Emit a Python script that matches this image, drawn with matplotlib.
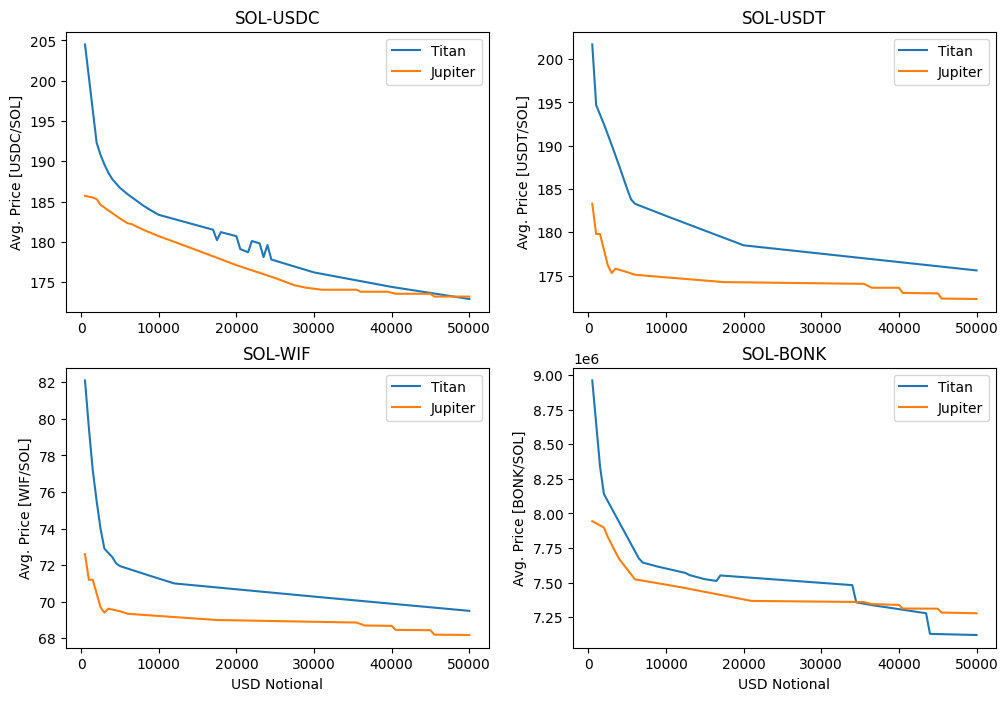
import matplotlib
matplotlib.use("Agg")
from matplotlib import pyplot as plt

PAIRS = ["SOL-USDC", "SOL-USDT", "SOL-WIF", "SOL-BONK"]
QUOTES = ["USDC", "USDT", "WIF", "BONK"]

# SOL-USDC
usdc_titan_x = [500, 2000, 2500, 3000, 3500, 4000, 5000, 6000, 7000, 8000, 9000, 10000, 17000, 17500,
                18000, 20000, 20500, 21500, 22000, 23000, 23500, 24000, 24500, 30000, 40000, 50000]
usdc_titan_y = [204.5, 192.3, 190.8, 189.6, 188.6, 187.8, 186.7, 185.9, 185.2, 184.5, 183.9, 183.35,
                181.5, 180.2, 181.2, 180.7, 179.1, 178.7, 180.1, 179.8, 178.1, 179.6, 177.8, 176.2,
                174.4, 172.9]
usdc_jup_x = [500, 1500, 2000, 2500, 3500, 5000, 6000, 6500, 8000, 9000, 10000, 12000, 17000,
              20000, 25000, 27500, 29000, 31000, 35500, 36000, 39500, 40500, 45000, 45500, 50000]
usdc_jup_y = [185.7, 185.5, 185.3, 184.6, 183.9, 182.9, 182.3, 182.2, 181.5, 181.1, 180.7, 180.0, 178.2,
              177.1, 175.5, 174.6, 174.3, 174.05, 174.05, 173.8, 173.8, 173.55, 173.55, 173.2, 173.2]

# SOL-USDT
usdt_titan_x = [500, 1000, 2000, 3000, 4000, 5000, 5500, 6000, 10000, 20000, 50000]
usdt_titan_y = [201.7, 194.7, 192.5, 190.1, 187.6, 185.0, 183.8, 183.3, 181.9, 178.5, 175.6]
usdt_jup_x = [500, 1000, 1500, 2500, 3000, 3500, 5000, 6000, 10000, 17500, 35500, 36500,
              40000, 40500, 45000, 45500, 50000]
usdt_jup_y = [183.3, 179.8, 179.8, 176.2, 175.3, 175.8, 175.4, 175.1, 174.8, 174.25, 174.05, 173.6,
              173.6, 173.0, 172.95, 172.35, 172.3]

# SOL-WIF
wif_titan_x = [500, 1000, 1500, 2000, 2500, 3000, 4000, 4500, 5000, 9000, 12000, 30000, 50000]
wif_titan_y = [82.1, 79.5, 77.2, 75.5, 74.0, 72.9, 72.45, 72.1, 71.95, 71.4, 71.0, 70.28, 69.5]
wif_jup_x = [500, 1000, 1500, 2500, 3000, 3500, 5000, 6000, 10000, 17500, 35500, 36500, 40000,
             40500, 45000, 45500, 50000]
wif_jup_y = [72.6, 71.2, 71.2, 69.7, 69.4, 69.62, 69.48, 69.34, 69.22, 69.0, 68.86, 68.7, 68.68,
             68.46, 68.44, 68.2, 68.18]

# SOL-BONK
bonk_titan_x = [500, 1500, 2000, 6500, 7000, 9000, 12500, 13000, 15000, 16500, 17000, 34000,
                34500, 36500, 43500, 44000, 50000]
bonk_titan_y = [8.96e6, 8.34e6, 8.14e6, 7.675e6, 7.645e6, 7.615e6, 7.57e6, 7.555e6, 7.525e6,
                7.512e6, 7.552e6, 7.482e6, 7.358e6, 7.338e6, 7.279e6, 7.13e6, 7.122e6]
bonk_jup_x = [500, 2000, 2500, 3500, 4000, 6000, 8500, 12000, 21000, 35500, 36500, 40000,
              40500, 45000, 45500, 50000]
bonk_jup_y = [7.944e6, 7.898e6, 7.83e6, 7.72e6, 7.668e6, 7.524e6, 7.5e6, 7.466e6, 7.368e6, 7.36e6,
              7.345e6, 7.339e6, 7.313e6, 7.312e6, 7.284e6, 7.279e6]

TITAN = [(usdc_titan_x, usdc_titan_y), (usdt_titan_x, usdt_titan_y),
         (wif_titan_x, wif_titan_y), (bonk_titan_x, bonk_titan_y)]
JUPITER = [(usdc_jup_x, usdc_jup_y), (usdt_jup_x, usdt_jup_y),
           (wif_jup_x, wif_jup_y), (bonk_jup_x, bonk_jup_y)]


def plot():
    fig, axes = plt.subplots(2, 2, figsize=(12, 8))
    for i, ax in enumerate(axes.flat):
        tx, ty = TITAN[i]
        jx, jy = JUPITER[i]
        ax.plot(tx, ty, label="Titan")
        ax.plot(jx, jy, label="Jupiter")
        ax.set_title(PAIRS[i])
        ax.set_ylabel(f"Avg. Price [{QUOTES[i]}/SOL]")
        if i >= 2:
            ax.set_xlabel("USD Notional")
        ax.legend(loc="upper right")
    fig.savefig("out.png", dpi=100, bbox_inches="tight")


if __name__ == '__main__':
    plot()
